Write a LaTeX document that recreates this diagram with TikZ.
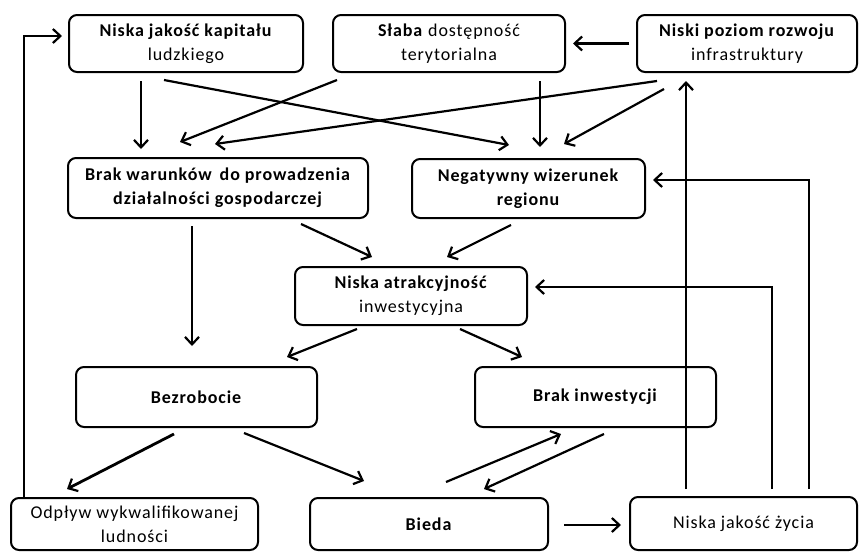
\documentclass[tikz,border=0pt]{standalone}
\usepackage{fontspec}
\setmainfont[LetterSpace=5]{Carlito}
\usetikzlibrary{arrows.meta,calc}
\begin{document}
\begin{tikzpicture}[x=1pt,y=-1pt,
  box/.style={draw, line width=2pt, rounded corners=8pt, align=center, inner sep=0pt,
    font=\fontsize{18}{24}\selectfont},
  arr/.style={line width=2.2pt, -{Straight Barb[length=7.5pt,width=14pt,line width=2.2pt]}},
  thick arr/.style={arr, line width=2.8pt},
]
\useasboundingbox (0,0) rectangle (860,552);
% nodes
\node[box, minimum width=234pt, minimum height=57pt] (b1) at (186,43.5) {\textbf{Niska jakość kapitału}\\ludzkiego};
\node[box, minimum width=232pt, minimum height=57pt] (b2) at (449,43.5) {\textbf{Słaba} dostępność\\terytorialna};
\node[box, minimum width=220pt, minimum height=57pt] (b3) at (747,43.5) {\textbf{Niski poziom rozwoju}\\infrastruktury};
\node[box, minimum width=300pt, minimum height=60pt] (b4) at (218,188) {\textbf{Brak warunków\, do prowadzenia}\\\textbf{działalności gospodarczej}};
\node[box, minimum width=233pt, minimum height=59pt] (b5) at (528.5,188.5) {\textbf{Negatywny wizerunek}\\\textbf{regionu}};
\node[box, minimum width=232pt, minimum height=58pt] (b6) at (411,296) {\textbf{Niska atrakcyjność}\\inwestycyjna};
\node[box, minimum width=241pt, minimum height=60pt] (b7) at (196.5,397) {\textbf{Bezrobocie}};
\node[box, minimum width=241pt, minimum height=60pt] (b8) at (595.5,397) {\textbf{Brak inwestycji}};
\node[box, minimum width=247pt, minimum height=52pt] (b9) at (134.5,524) {Odpływ wykwalifikowanej\\ludności};
\node[box, minimum width=238pt, minimum height=52pt] (b10) at (429,524) {\textbf{Bieda}};
\node[box, minimum width=227pt, minimum height=53pt] (b11) at (743.5,523.5) {Niska jakość życia};
% connectors
\draw[thick arr] ($(b1.south west)+(73,8)$) -- ($(b4.north west)+(74,-8)$);
\draw[arr] ($(b1.south west)+(96,7)$) -- ($(b5.north west)+(98,-13)$);
\draw[arr] ($(b2.south west)+(5,7)$) -- ($(b4.north west)+(113,-15)$);
\draw[arr] ($(b3.south west)+(21,8)$) -- ($(b4.north west)+(148,-13)$);
\draw[arr] ($(b2.south west)+(208,8)$) -- ($(b5.north west)+(129,-11)$);
\draw[arr] ($(b3.south west)+(28,16)$) -- ($(b5.north west)+(153,-14)$);
\draw[thick arr] ($(b3.west)+(-7,0)$) -- ($(b2.east)+(7,0)$);
\draw[arr] ($(b11.north west)+(57,-7)$) -- ($(b3.south west)+(50,8)$);
\draw[arr] ($(b11.north west)+(180,-7)$) |- ($(b5.north east)+(7,22)$);
\draw[arr] ($(b11.north west)+(143,-7)$) |- ($(b6.north east)+(7,21)$);
\draw[arr] ($(b9.north west)+(14,0)$) |- ($(b1.north west)+(-6,22)$);
\draw[arr] ($(b4.south west)+(234,5)$) -- ($(b6.north west)+(78,-9)$);
\draw[arr] ($(b5.south west)+(100,6)$) -- ($(b6.north west)+(153,-9)$);
\draw[arr] ($(b4.south west)+(125,7)$) -- ($(b7.north west)+(117,-20)$);
\draw[arr] ($(b6.south west)+(63,3)$) -- ($(b7.north west)+(212,-9)$);
\draw[arr] ($(b6.south west)+(166,3)$) -- ($(b8.north west)+(48,-9)$);
\draw[thick arr] ($(b7.south west)+(99,6)$) -- ($(b9.north west)+(57,-8)$);
\draw[arr] ($(b7.south west)+(169,5)$) -- ($(b10.north west)+(55,-16)$);
\draw[arr] ($(b10.north west)+(137,-15)$) -- ($(b8.south west)+(87,6)$);
\draw[arr] ($(b8.south west)+(130,6)$) -- ($(b10.north west)+(175,-8)$);
\draw[thick arr] ($(b10.east)+(15,1)$) -- ($(b11.west)+(-8,1.5)$);
\end{tikzpicture}
\end{document}
